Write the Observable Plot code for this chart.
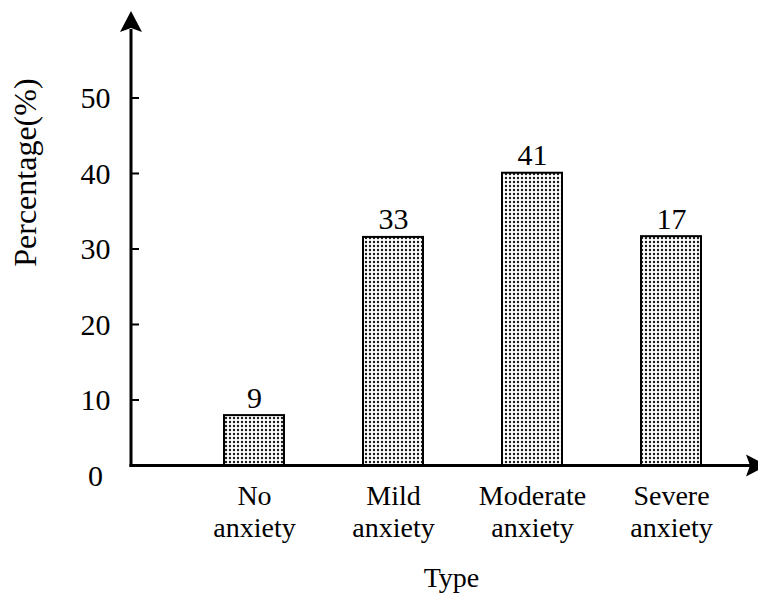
<!DOCTYPE html>
<html><head><meta charset="utf-8">
<script src="https://cdn.jsdelivr.net/npm/d3@7"></script>
<script src="https://cdn.jsdelivr.net/npm/@observablehq/plot@0.6"></script>
<style>html,body{margin:0;padding:0;background:#fff;overflow:hidden}</style>
</head><body><div id="chart"></div>
<script>
const categories = ["No anxiety", "Mild anxiety", "Moderate anxiety", "Severe anxiety"];
const barValues = [8.0, 31.6, 40.1, 31.7];
const valueLabels = ["9", "33", "41", "17"];
const yTickLabels = [0, 10, 20, 30, 40, 50];
const yTickMarks = [10, 20, 30, 40, 50];
const xTitle = "Type";
const yTitle = "Percentage(%)";

const data = categories.map((c, i) => ({category: c, value: barValues[i], label: valueLabels[i]}));

const NS = "http://www.w3.org/2000/svg";
function el(name, attrs) {
  const e = document.createElementNS(NS, name);
  for (const k in attrs) e.setAttribute(k, attrs[k]);
  return e;
}
const baselineLift = 10; // px the x axis sits above the y=0 position

function patternDefs() {
  const g = el("g", {});
  const defs = el("defs", {});
  const p = el("pattern", {id: "dots", width: 4, height: 4, patternUnits: "userSpaceOnUse"});
  p.append(el("rect", {width: 4, height: 4, fill: "#fff"}));
  p.append(el("circle", {cx: 2, cy: 2, r: 1.2, fill: "#1a1a1a"}));
  defs.append(p);
  g.append(defs);
  return g;
}

function axesMark(index, scales, values, dims) {
  const {width, marginLeft, marginTop} = dims;
  const y0 = scales.y(0) - baselineLift;
  const g = el("g", {fill: "none"});
  for (const t of yTickMarks) {
    const yy = scales.y(t);
    g.append(el("line", {x1: marginLeft, x2: marginLeft + 8, y1: yy, y2: yy, stroke: "#000", "stroke-width": 2}));
  }
  g.append(el("line", {x1: marginLeft, x2: marginLeft, y1: marginTop + 18, y2: y0 + 1.5, stroke: "#000", "stroke-width": 3}));
  g.append(el("line", {x1: marginLeft - 1.5, x2: width, y1: y0, y2: y0, stroke: "#000", "stroke-width": 3}));
  const L = 21, H = 11, N = 4;
  const ax = marginLeft, ay = marginTop;
  g.append(el("path", {d: `M${ax},${ay}L${ax + H},${ay + L}L${ax},${ay + L - N}L${ax - H},${ay + L}Z`, fill: "#000"}));
  const tx = width + 9, ty = y0;
  g.append(el("path", {d: `M${tx},${ty}L${tx - L},${ty - H}L${tx - L + N},${ty}L${tx - L},${ty + H}Z`, fill: "#000"}));
  return g;
}

const chart = Plot.plot({
  width: 758, height: 594,
  marginLeft: 131, marginRight: 0, marginTop: 11, marginBottom: 118.5,
  style: {fontFamily: "'Liberation Serif','Times New Roman',serif", fontSize: "28px", color: "#000", background: "#fff", overflow: "hidden"},
  x: {type: "band", domain: categories, paddingInner: 0.5714, paddingOuter: 0.525, align: 0.619, label: null},
  y: {domain: [0, 61.52], label: null},
  marks: [
    patternDefs,
    Plot.barY(data, {x: "category", y: "value", fill: "url(#dots)", stroke: "#000", strokeWidth: 2, insetBottom: baselineLift}),
    axesMark,
    Plot.axisY(yTickLabels, {tickSize: 0, tickPadding: 36, textAnchor: "middle", fontSize: 30}),
    Plot.axisX({tickSize: 0, tickPadding: 6, fontSize: 28, lineHeight: 1.14, tickFormat: d => d.replace(" ", "\n")}),
    Plot.text(data, {x: "category", y: "value", text: "label", lineAnchor: "bottom", dy: -8, fontSize: 30}),
    Plot.text([xTitle], {frameAnchor: "bottom", lineAnchor: "bottom", dx: 6.5, dy: 110.5, fontSize: 28}),
    Plot.text([yTitle], {frameAnchor: "left", rotate: -90, lineAnchor: "bottom", dx: -96, dy: 23, fontSize: 32})
  ]
});
document.getElementById("chart").append(chart);
</script>
</body></html>
